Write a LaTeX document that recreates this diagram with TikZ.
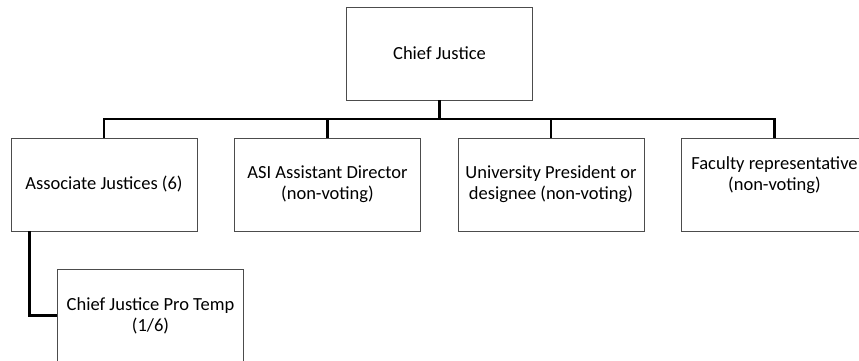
\documentclass[tikz,border=0pt]{standalone}
\usepackage{fontspec}
\setmainfont{Carlito}
\usepackage{tikz}
\usetikzlibrary{positioning}
\newcommand{\boxw}{186pt}
\newcommand{\boxh}{93pt}
\newcommand{\linkw}{2.6pt}

\begin{document}
\begin{tikzpicture}[x=1pt,y=-1pt]
	
	\tikzset{OrgBox/.style = {draw=black!70, line width=0.9pt, fill=white, minimum width=\boxw, minimum height=\boxh, inner sep=0pt, align=center, font=\fontsize{18.5}{21}\selectfont}}
	\tikzset{OrgLink/.style = {draw=black, line width=\linkw, line join=miter}}
	\useasboundingbox (0,0) rectangle (859,360);
	\clip (0,0) rectangle (859,360);
	\fill[white] (0,0) rectangle (859,360);
	%\draw[help lines] (0,0) grid[step=50] (859,360);
	\node[OrgBox] (chief) at (439.5,53.5) {Chief Justice};
	\node[OrgBox] (assoc) at (104,184.5) {Associate Justices (6)};
	\node[OrgBox] (asi) at (327.5,184.5) {ASI Assistant Director\\(non-voting)};
	\node[OrgBox] (pres) at (551,184.5) {University President or\\designee (non-voting)};
	\node[OrgBox] (fac) at (774.5,184.5) {Faculty representative\\(non-voting)\\\mbox{}};
	\node[OrgBox] (protemp) at (150.5,315.5) {Chief Justice Pro Temp\\(1/6)};
	\coordinate (bus) at (439.5,119);
	\draw[OrgLink] (chief.south) -- (chief.south |- bus);
	\draw[OrgLink] (assoc.north) |- (fac.north |- bus) -- (fac.north);
	\draw[OrgLink] (asi.north) -- (asi.north |- bus);
	\draw[OrgLink] (pres.north) -- (pres.north |- bus);
	%\draw[OrgLink] (assoc.south) |- (protemp.west);
	\draw[OrgLink] ([xshift=19pt]assoc.south west) |- (protemp.west);
	\end{tikzpicture}
\end{document}
